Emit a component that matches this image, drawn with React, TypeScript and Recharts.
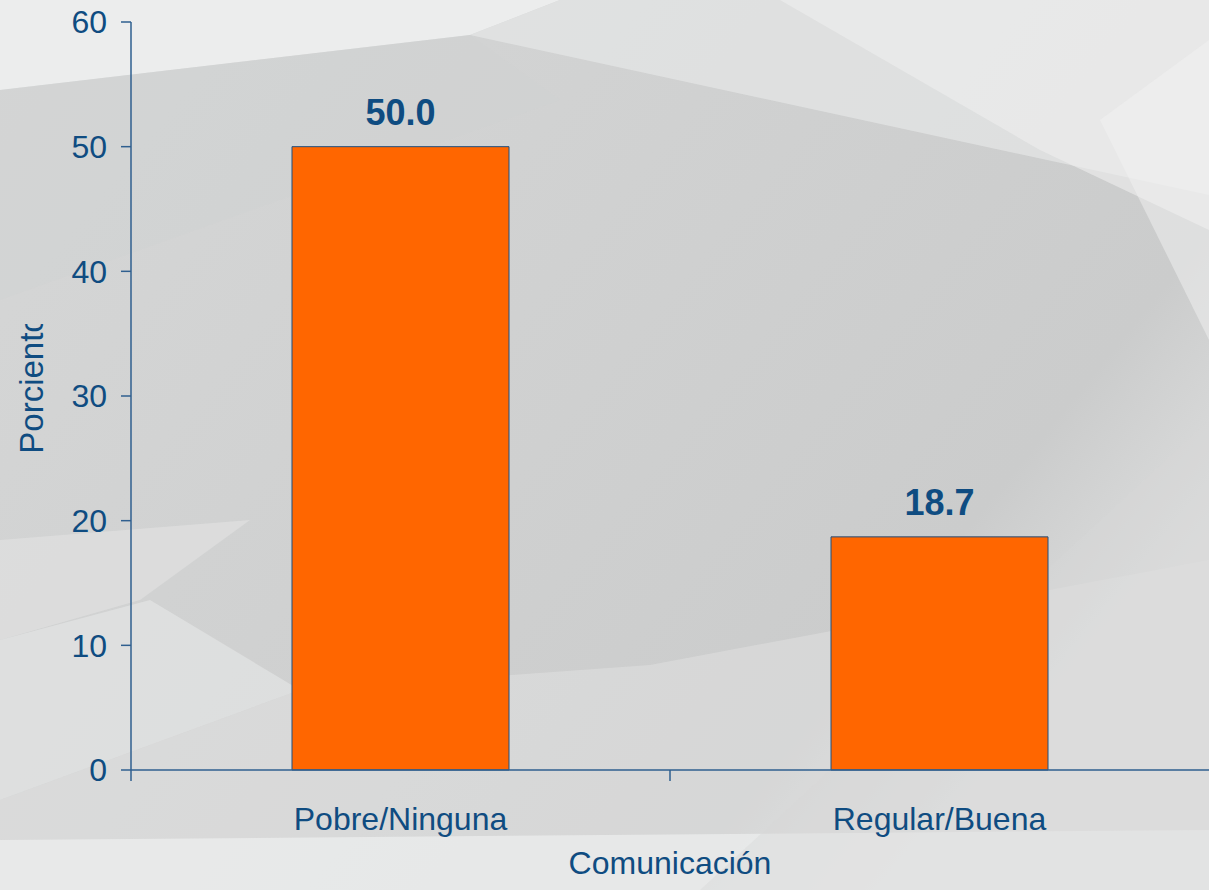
import React from 'react';
import { BarChart, Bar, XAxis, YAxis, LabelList, Label } from 'recharts';

const categories = ['Pobre/Ninguna', 'Regular/Buena'];
const porciento = [50.0, 18.7];
const yTicks = [0, 10, 20, 30, 40, 50, 60];

const BLUE = '#0f4c81';
const AXIS = '#2f5f8f';
const ORANGE = '#ff6600';
const X_TICK_SIZE = 11;
const X_TICK_MARGIN = 26;

const data = categories.map((name, i) => ({ name, value: porciento[i] }));

// soft faceted grey backdrop, roughly like the slide template
const Backdrop: React.FC = () => (
  <svg width={1209} height={890} style={{ position: 'absolute', left: 0, top: 0 }}>
    <defs>
      <linearGradient id="bg" x1="0" y1="0" x2="1" y2="0.6">
        <stop offset="0%" stopColor="#d6d7d7" />
        <stop offset="55%" stopColor="#cfd0d0" />
        <stop offset="85%" stopColor="#cbcccc" />
        <stop offset="100%" stopColor="#dcdddd" />
      </linearGradient>
    </defs>
    <rect width="1209" height="890" fill="url(#bg)" />
    <polygon points="0,0 560,0 470,35 0,90" fill="#eef0f0" opacity="0.9" />
    <polygon points="470,35 560,0 1209,0 1209,195" fill="#e6e7e7" opacity="0.7" />
    <polygon points="780,0 1209,0 1209,230 1040,150" fill="#eeeeee" opacity="0.6" />
    <polygon points="1100,120 1209,40 1209,340" fill="#f2f2f2" opacity="0.5" />
    <polygon points="0,90 470,35 560,100 0,300" fill="#d0d1d1" opacity="0.4" />
    <polygon points="0,540 250,520 140,600 0,640" fill="#e2e3e3" opacity="0.6" />
    <polygon points="0,640 150,600 300,690 0,800" fill="#e6e7e7" opacity="0.6" />
    <polygon points="300,690 650,665 1209,560 1209,890 0,890 0,800" fill="#e4e5e5" opacity="0.45" />
    <polygon points="0,840 1209,830 1209,890 0,890" fill="#eeefef" opacity="0.7" />
    <polygon points="700,890 1209,420 1209,890" fill="#d7d8d8" opacity="0.4" />
  </svg>
);

// category label centred in its band, tick mark drawn on the band's left edge
const CategoryTick = (props: any) => {
  const { x, y, payload } = props;
  const half = payload && payload.offset ? payload.offset : 0;
  const axisY = y - X_TICK_MARGIN - X_TICK_SIZE;
  return (
    <g>
      <line x1={x - half} x2={x - half} y1={axisY} y2={axisY + X_TICK_SIZE} stroke={AXIS} strokeWidth={1.5} />
      <text x={x} y={y} dy="0.71em" textAnchor="middle" fill={BLUE} fontSize={32}>
        {payload.value}
      </text>
    </g>
  );
};

// rotated axis title, cut off at the top like the original slide
const YLabel = () => {
  const cx = 31;
  const cy = 384;
  return (
    <g>
      <defs>
        <clipPath id="ylabclip">
          <rect x={0} y={324} width={80} height={200} />
        </clipPath>
      </defs>
      <g clipPath="url(#ylabclip)">
        <text
          x={cx}
          y={cy}
          transform={`rotate(-90 ${cx} ${cy})`}
          textAnchor="middle"
          dominantBaseline="central"
          fill={BLUE}
          fontSize={33}
        >
          Porciento
        </text>
      </g>
    </g>
  );
};

const App: React.FC = () => {
  return (
    <div style={{ position: 'relative', width: 1209, height: 890, fontFamily: '"Liberation Sans", Arial, sans-serif' }}>
      <style>{'body{margin:0}'}</style>
      <Backdrop />
      <div style={{ position: 'absolute', left: 0, top: 0 }}>
        <BarChart
          width={1209}
          height={890}
          data={data}
          margin={{ top: 22, right: 0, left: 0, bottom: 16 }}
        >
          <XAxis
            dataKey="name"
            height={104}
            interval={0}
            tickLine={false}
            tickSize={X_TICK_SIZE}
            tickMargin={X_TICK_MARGIN}
            axisLine={{ stroke: AXIS, strokeWidth: 1.5 }}
            tick={<CategoryTick />}
          >
            <Label value="Comunicación" position="insideBottom" offset={0} fill={BLUE} fontSize={32} />
          </XAxis>
          <YAxis
            domain={[0, 60]}
            ticks={yTicks}
            width={131}
            tickSize={10}
            tickMargin={14}
            axisLine={{ stroke: AXIS, strokeWidth: 1.5 }}
            tickLine={{ stroke: AXIS, strokeWidth: 1.5 }}
            tick={{ fill: BLUE, fontSize: 32 }}
          >
            <Label content={<YLabel />} />
          </YAxis>
          <Bar
            dataKey="value"
            fill={ORANGE}
            stroke="#1f4f7f"
            strokeWidth={1}
            barSize={217}
            isAnimationActive={false}
          >
            <LabelList
              dataKey="value"
              position="top"
              offset={22}
              formatter={(v: any) => Number(v).toFixed(1)}
              fill={BLUE}
              fontSize={36}
              fontWeight="bold"
            />
          </Bar>
        </BarChart>
      </div>
    </div>
  );
};

export default App;
